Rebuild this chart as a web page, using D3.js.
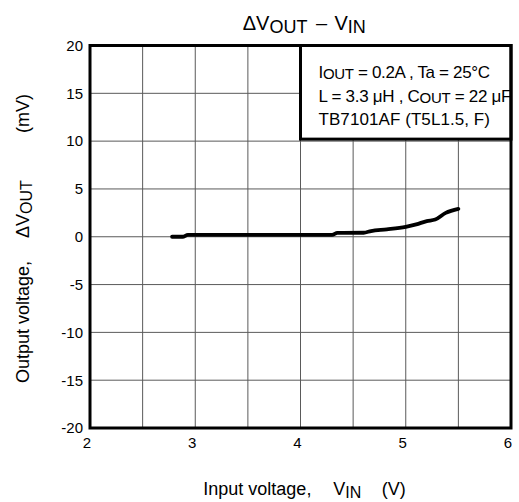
<!DOCTYPE html>
<html><head><meta charset="utf-8">
<script src="https://cdn.jsdelivr.net/npm/d3@7"></script>
<style>body{margin:0;background:#fff}text{font-family:"Liberation Sans",Arial,sans-serif;fill:#000}</style>
</head><body><svg id="c" width="519" height="502"></svg>
<script>
const vin = [2.78, 2.88, 2.93, 3.0, 3.5, 4.0, 4.3, 4.35, 4.6, 4.67, 4.82, 5.0, 5.1, 5.2, 5.28, 5.38, 5.5];
const dvout = [0, 0, 0.2, 0.2, 0.2, 0.2, 0.2, 0.4, 0.42, 0.6, 0.77, 1.04, 1.3, 1.64, 1.8, 2.5, 2.92];
const xTicks = [2, 3, 4, 5, 6];
const yTicks = [20, 15, 10, 5, 0, -5, -10, -15, -20];
const xGrid = [2.5, 3, 3.5, 4, 4.5, 5, 5.5];

const svg = d3.select("#c");
const L = 90, R = 511, T = 45.5, B = 428;
const x = d3.scaleLinear().domain([2, 6]).range([L, R]);
const y = d3.scaleLinear().domain([-20, 20]).range([B, T]);

// grid
svg.append("g").selectAll("line").data(xGrid).join("line")
  .attr("x1", d => x(d)).attr("x2", d => x(d)).attr("y1", T).attr("y2", B)
  .attr("stroke", "#5a5a5a").attr("stroke-width", 1);
svg.append("g").selectAll("line").data(yTicks.slice(1, -1)).join("line")
  .attr("x1", L).attr("x2", R).attr("y1", d => y(d)).attr("y2", d => y(d))
  .attr("stroke", "#5a5a5a").attr("stroke-width", 1);

// curve
svg.append("path").datum(vin.map((v, i) => [v, dvout[i]]))
  .attr("d", d3.line().x(d => x(d[0])).y(d => y(d[1])).curve(d3.curveMonotoneX))
  .attr("fill", "none").attr("stroke", "#000").attr("stroke-width", 3.8)
  .attr("stroke-linecap", "round").attr("stroke-linejoin", "round");

// legend box
const bx = x(4), by = T, bw = R - x(4), bh = y(10) - T - 2;
svg.append("rect").attr("x", bx).attr("y", by).attr("width", bw).attr("height", bh)
  .attr("fill", "#fff").attr("stroke", "#000").attr("stroke-width", 3);

// frame
svg.append("rect").attr("x", L).attr("y", T).attr("width", R - L).attr("height", B - T)
  .attr("fill", "none").attr("stroke", "#000").attr("stroke-width", 3);

// axes tick labels
const fmt = d => String(d);
const xAxis = d3.axisBottom(x).tickValues(xTicks).tickFormat(fmt).tickSize(0).tickPadding(9);
const gx = svg.append("g").attr("transform", `translate(-3.5,${B})`).call(xAxis);
gx.select(".domain").remove();
gx.selectAll("text").attr("font-size", 15).attr("font-family", "Liberation Sans, Arial, sans-serif").attr("fill", "#000");
const yAxis = d3.axisLeft(y).tickValues(yTicks).tickFormat(fmt).tickSize(0).tickPadding(7);
const gy = svg.append("g").attr("transform", `translate(${L},0)`).call(yAxis);
gy.select(".domain").remove();
gy.selectAll("text").attr("font-size", 15).attr("font-family", "Liberation Sans, Arial, sans-serif").attr("fill", "#000");

// title
const tt = svg.append("text").attr("y", 30).attr("font-size", 20);
tt.append("tspan").attr("x", 242.7).text("ΔV");
tt.append("tspan").text("OUT").attr("font-size", 18).attr("dy", 3);
tt.append("tspan").attr("x", 316).text("–").attr("dy", -3);
tt.append("tspan").attr("x", 334.5).text("V");
tt.append("tspan").text("IN").attr("font-size", 18).attr("dy", 3);

// x title
const xt = svg.append("text").attr("y", 495).attr("font-size", 18);
xt.append("tspan").attr("x", 203.3).text("Input voltage,");
xt.append("tspan").attr("x", 333.3).text("V");
xt.append("tspan").text("IN").attr("font-size", 16).attr("dy", 3);
xt.append("tspan").attr("x", 381.7).text("(V)").attr("dy", -3);

// y title (rotated; x runs bottom-to-top from y=383)
const yt = svg.append("text").attr("transform", "translate(29,383) rotate(-90)").attr("font-size", 18);
yt.append("tspan").attr("x", 0).text("Output voltage,");
yt.append("tspan").attr("x", 145).text("ΔV");
yt.append("tspan").text("OUT").attr("font-size", 16).attr("dy", 3);
yt.append("tspan").attr("x", 250).text("(mV)").attr("dy", -3);

// legend text
const lx = 318.5;
const l1 = svg.append("text").attr("x", lx).attr("y", 78).attr("font-size", 17)
  .attr("textLength", 171.5).attr("lengthAdjust", "spacing");
l1.append("tspan").text("I");
l1.append("tspan").text("OUT").attr("font-size", 15).attr("dy", 1);
l1.append("tspan").text(" = 0.2A , Ta = 25°C").attr("dy", -1);
const l2 = svg.append("text").attr("x", lx).attr("y", 101.5).attr("font-size", 17)
  .attr("textLength", 193).attr("lengthAdjust", "spacing");
l2.append("tspan").text("L = 3.3 μH , C");
l2.append("tspan").text("OUT").attr("font-size", 15).attr("dy", 1);
l2.append("tspan").text(" = 22 μF").attr("dy", -1);
svg.append("text").attr("x", lx).attr("y", 125).attr("font-size", 17)
  .attr("textLength", 171.5).attr("lengthAdjust", "spacing").text("TB7101AF (T5L1.5, F)");
</script></body></html>
